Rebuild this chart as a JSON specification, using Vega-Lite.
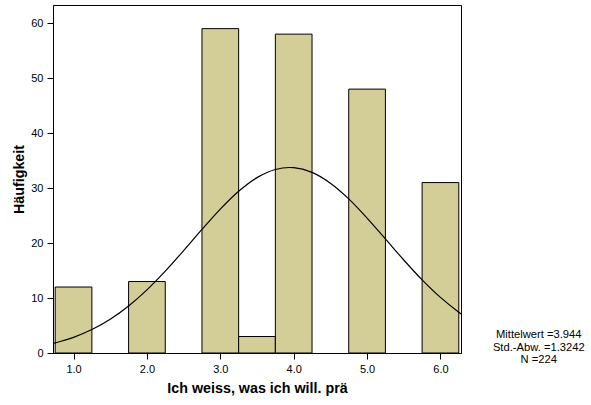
{
  "$schema": "https://vega.github.io/schema/vega-lite/v6.json",
  "width": 408,
  "height": 348,
  "autosize": {"type": "none"},
  "padding": {"left": 53, "top": 5, "right": 130, "bottom": 52},
  "background": "white",
  "config": {
    "font": "Liberation Sans",
    "view": {"stroke": "black", "strokeWidth": 1},
    "axis": {"grid": false, "domainColor": "black", "tickColor": "black", "labelColor": "black", "titleColor": "black", "labelFontSize": 11, "titleFontSize": 14.3, "titleFontWeight": "bold", "tickSize": 6, "labelPadding": 4}
  },
  "datasets": {
    "bars": [
      {"x0": 0.75, "x1": 1.25, "count": 12},
      {"x0": 1.75, "x1": 2.25, "count": 13},
      {"x0": 2.75, "x1": 3.25, "count": 59},
      {"x0": 3.25, "x1": 3.75, "count": 3},
      {"x0": 3.75, "x1": 4.25, "count": 58},
      {"x0": 4.75, "x1": 5.25, "count": 48},
      {"x0": 5.75, "x1": 6.25, "count": 31}
    ],
    "curve": [
      {"x": 0.72, "y": 1.72},
      {"x": 0.75, "y": 1.84},
      {"x": 1.0, "y": 2.85},
      {"x": 1.25, "y": 4.26},
      {"x": 1.5, "y": 6.14},
      {"x": 1.75, "y": 8.55},
      {"x": 2.0, "y": 11.49},
      {"x": 2.25, "y": 14.89},
      {"x": 2.5, "y": 18.62},
      {"x": 2.75, "y": 22.47},
      {"x": 3.0, "y": 26.17},
      {"x": 3.25, "y": 29.41},
      {"x": 3.5, "y": 31.9},
      {"x": 3.75, "y": 33.38},
      {"x": 3.944, "y": 33.74},
      {"x": 4.0, "y": 33.71},
      {"x": 4.25, "y": 32.85},
      {"x": 4.5, "y": 30.89},
      {"x": 4.75, "y": 28.04},
      {"x": 5.0, "y": 24.55},
      {"x": 5.25, "y": 20.75},
      {"x": 5.5, "y": 16.92},
      {"x": 5.75, "y": 13.31},
      {"x": 6.0, "y": 10.11},
      {"x": 6.25, "y": 7.41},
      {"x": 6.28, "y": 7.11}
    ],
    "stats": [
      {"x": 7.34, "y": 3.27, "label": ["Mittelwert =3.944", "Std.-Abw. =1.3242", "N =224"]}
    ]
  },
  "layer": [
    {
      "data": {"name": "bars"},
      "mark": {"type": "rect", "fill": "#d3ce97", "stroke": "black", "strokeWidth": 1},
      "encoding": {
        "x": {"field": "x0", "type": "quantitative", "scale": {"domain": [0.72, 6.28], "nice": false, "zero": false},
              "axis": {"values": [1, 2, 3, 4, 5, 6], "format": ".1f", "title": "Ich weiss, was ich will. prä", "titlePadding": 7}},
        "x2": {"field": "x1"},
        "y": {"field": "count", "type": "quantitative", "scale": {"domain": [0, 63.3], "nice": false},
              "axis": {"values": [0, 10, 20, 30, 40, 50, 60], "title": "Häufigkeit", "titlePadding": 4}},
        "y2": {"datum": 0}
      }
    },
    {
      "data": {"name": "curve"},
      "mark": {"type": "line", "color": "black", "strokeWidth": 1.2, "interpolate": "monotone", "clip": true},
      "encoding": {
        "x": {"field": "x", "type": "quantitative"},
        "y": {"field": "y", "type": "quantitative"}
      }
    },
    {
      "data": {"name": "stats"},
      "mark": {"type": "text", "fontSize": 11.2, "color": "black", "align": "center", "baseline": "middle", "lineHeight": 12.5},
      "encoding": {
        "x": {"field": "x", "type": "quantitative"},
        "y": {"field": "y", "type": "quantitative"},
        "text": {"field": "label"}
      }
    }
  ]
}
